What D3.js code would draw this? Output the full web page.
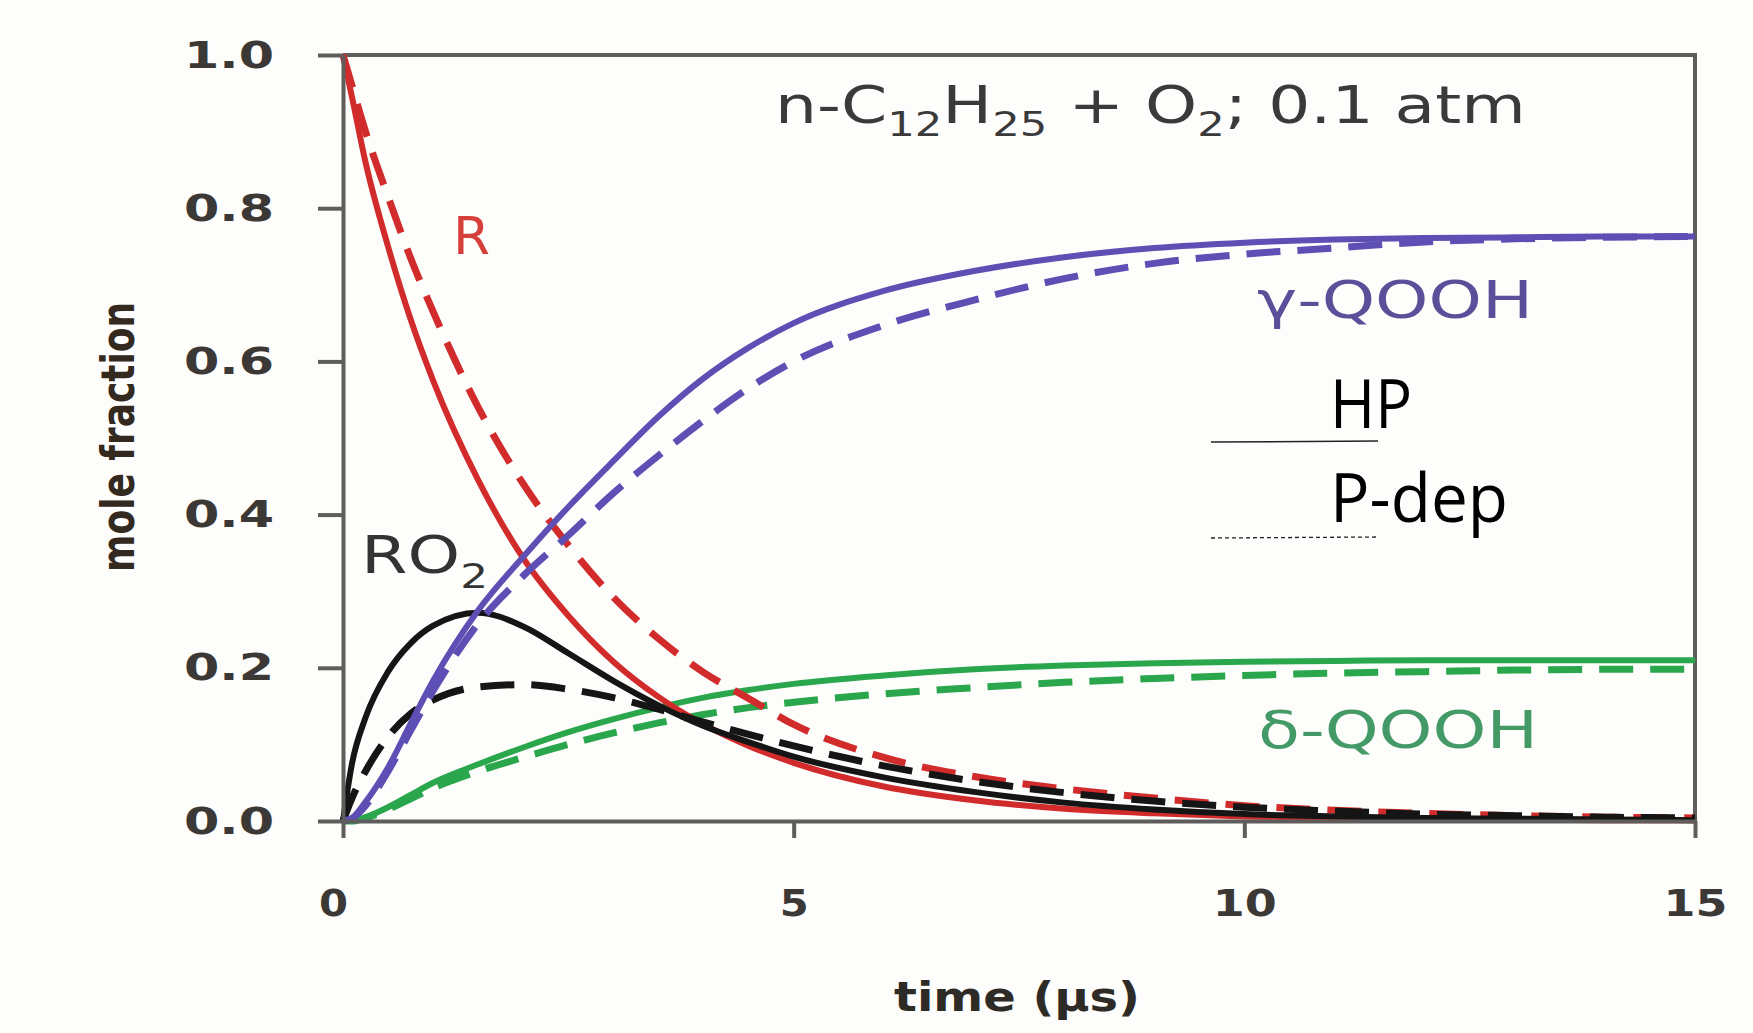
<!DOCTYPE html>
<html><head><meta charset="utf-8">
<script src="https://cdn.jsdelivr.net/npm/d3@7"></script>
<style>body{margin:0;background:#fdfdfb;} svg{display:block;}</style>
</head><body><svg id="chart" width="1753" height="1033"></svg>
<script>
// ---- data (time in µs, mole fraction) ----
const times    = [0,0.1,0.25,0.5,0.75,1,1.5,2,2.5,3,3.5,4,4.5,5,6,7,8,9,10,11,12,13,14,15];
const R_HP     = [1,0.945,0.86,0.75,0.655,0.575,0.445,0.343,0.268,0.208,0.162,0.126,0.098,0.076,0.045,0.027,0.016,0.01,0.006,0.004,0.003,0.002,0.001,0.001];
const R_Pdep   = [1,0.96,0.9,0.815,0.735,0.665,0.54,0.44,0.36,0.292,0.238,0.194,0.16,0.126,0.083,0.058,0.042,0.03,0.02,0.014,0.01,0.007,0.005,0.004];
const RO2_HP   = [0,0.075,0.135,0.195,0.232,0.255,0.272,0.254,0.219,0.183,0.151,0.124,0.103,0.084,0.057,0.038,0.024,0.015,0.009,0.006,0.004,0.003,0.002,0.001];
const RO2_Pdep = [0,0.03,0.065,0.11,0.14,0.158,0.175,0.178,0.172,0.161,0.146,0.129,0.113,0.098,0.072,0.052,0.037,0.026,0.018,0.013,0.009,0.007,0.005,0.004];
const gQ_HP    = [0,0.004,0.025,0.07,0.127,0.183,0.275,0.345,0.41,0.47,0.528,0.578,0.618,0.65,0.692,0.718,0.736,0.748,0.755,0.759,0.761,0.762,0.763,0.763];
const gQ_Pdep  = [0,0.003,0.02,0.065,0.118,0.17,0.258,0.32,0.373,0.428,0.477,0.523,0.565,0.6,0.647,0.68,0.708,0.728,0.74,0.748,0.756,0.76,0.762,0.763];
const dQ_HP    = [0,0,0.005,0.018,0.034,0.05,0.074,0.096,0.116,0.133,0.148,0.161,0.171,0.179,0.19,0.198,0.203,0.206,0.208,0.209,0.21,0.21,0.21,0.21];
const dQ_Pdep  = [0,0,0.004,0.015,0.029,0.043,0.065,0.083,0.1,0.115,0.128,0.139,0.148,0.155,0.166,0.174,0.181,0.186,0.19,0.193,0.195,0.197,0.198,0.198];
const xTicks = [0,5,10,15];
const yTicks = [0,0.2,0.4,0.6,0.8,1.0];
const seriesNames = ["R","RO2","γ-QOOH","δ-QOOH"];
const legendLabels = ["HP","P-dep"];

const C = {red:"#d22b2b", black:"#151515", purple:"#5d4fb3", green:"#2aa64c"};

const svg = d3.select("#chart");
const x = d3.scaleLinear().domain([0,15]).range([343,1695]);
const y = d3.scaleLinear().domain([0,1]).range([821,55]);

// frame (top & right)
svg.append("path")
  .attr("d", `M${x(0)},${y(1)}H${x(15)}V${y(0)}`)
  .attr("fill","none").attr("stroke","#5e5d5b").attr("stroke-width",4);

// curves
const line = d3.line().x((d,i)=>x(times[i])).y(d=>y(d)).curve(d3.curveMonotoneX);
const curves = [
  [dQ_Pdep, C.green, true], [dQ_HP, C.green, false],
  [R_Pdep, C.red, true], [R_HP, C.red, false],
  [RO2_Pdep, C.black, true], [RO2_HP, C.black, false],
  [gQ_Pdep, C.purple, true], [gQ_HP, C.purple, false]
];
curves.forEach(([vals,col,dash])=>{
  svg.append("path").datum(vals).attr("d",line)
    .attr("fill","none").attr("stroke",col)
    .attr("stroke-width", dash?7:6)
    .attr("stroke-dasharray", dash?"34,17":null)
    .attr("stroke-linejoin","round");
});

// axes
const yAxis = d3.axisLeft(y).tickValues(yTicks).tickSize(25).tickSizeOuter(0).tickPadding(44).tickFormat(d3.format(".1f"));
const gy = svg.append("g").attr("transform",`translate(${x(0)},0)`).call(yAxis);
const xAxis = d3.axisBottom(x).tickValues(xTicks).tickSize(17).tickSizeOuter(0).tickPadding(51).tickFormat(d3.format("d"));
const gx = svg.append("g").attr("transform",`translate(0,${y(0)})`).call(xAxis);
[gx,gy].forEach(g=>{
  g.select(".domain").attr("stroke","#5e5d5b").attr("stroke-width",4);
  g.selectAll(".tick line").attr("stroke","#5e5d5b").attr("stroke-width",4);
  g.selectAll(".tick text").attr("fill","#3b3835").attr("font-family","DejaVu Sans")
    .attr("font-weight","bold").attr("font-size",38).attr("lengthAdjust","spacingAndGlyphs");
});
gy.selectAll(".tick text").attr("textLength",90);
gx.selectAll(".tick text").attr("textLength",d=>String(d).length>1?64:29)
  .attr("dx",d=>d===0?-10:0);

// axis titles
svg.append("text").attr("x",1017).attr("y",1011).attr("text-anchor","middle")
  .attr("font-family","DejaVu Sans").attr("font-weight","bold").attr("font-size",40)
  .attr("fill","#2e2a25").attr("textLength",246).attr("lengthAdjust","spacingAndGlyphs")
  .text("time (µs)");
svg.append("text").attr("transform","translate(134,437) rotate(-90)").attr("text-anchor","middle")
  .attr("font-family","DejaVu Sans").attr("font-weight","bold").attr("font-size",46)
  .attr("fill","#33291f").attr("textLength",270).attr("lengthAdjust","spacingAndGlyphs")
  .text("mole fraction");

function stretch(t, x0, y0, w){
  const bb = t.node().getBBox();
  t.attr("transform",`translate(${x0 - bb.x*(w/bb.width)},${y0}) scale(${w/bb.width},1)`);
}

// title with subscripts
const title = svg.append("text").attr("font-family","DejaVu Sans").attr("font-size",52).attr("fill","#3a3a3a");
title.append("tspan").text("n-C");
title.append("tspan").attr("font-size",34).attr("dy",13).text("12");
title.append("tspan").attr("dy",-13).text("H");
title.append("tspan").attr("font-size",34).attr("dy",13).text("25");
title.append("tspan").attr("dy",-13).text(" + O");
title.append("tspan").attr("font-size",34).attr("dy",13).text("2");
title.append("tspan").attr("dy",-13).text("; 0.1 atm");
stretch(title, 775, 123, 751);

// series labels
const rl = svg.append("text").attr("font-family","DejaVu Sans").attr("font-size",52).attr("fill","#d6403a").text(seriesNames[0]);
stretch(rl, 453, 254, 37);
const ro = svg.append("text").attr("font-family","DejaVu Sans").attr("font-size",52).attr("fill","#333333");
ro.append("tspan").text("RO");
ro.append("tspan").attr("font-size",34).attr("dy",15).text("2");
stretch(ro, 361, 573, 127);
const gl = svg.append("text").attr("font-family","DejaVu Sans").attr("font-size",52).attr("fill","#5a4f98").text(seriesNames[2]);
stretch(gl, 1257, 318, 276);
const dl = svg.append("text").attr("font-family","DejaVu Sans").attr("font-size",52).attr("fill","#449a66").text(seriesNames[3]);
stretch(dl, 1258, 748, 280);

// legend
svg.append("line").attr("x1",1211).attr("x2",1378).attr("y1",442).attr("y2",441)
  .attr("stroke","#222").attr("stroke-width",1.5);
svg.append("line").attr("x1",1211).attr("x2",1378).attr("y1",538).attr("y2",537)
  .attr("stroke","#222").attr("stroke-width",1.3).attr("stroke-dasharray","4,3");
svg.append("text").attr("x",1330).attr("y",428).attr("font-family","Open Sans").attr("font-size",67)
  .attr("fill","#000").attr("textLength",82).attr("lengthAdjust","spacingAndGlyphs").text(legendLabels[0]);
svg.append("text").attr("x",1330).attr("y",522).attr("font-family","Open Sans").attr("font-size",67)
  .attr("fill","#000").attr("textLength",178).attr("lengthAdjust","spacingAndGlyphs").text(legendLabels[1]);
</script></body></html>
